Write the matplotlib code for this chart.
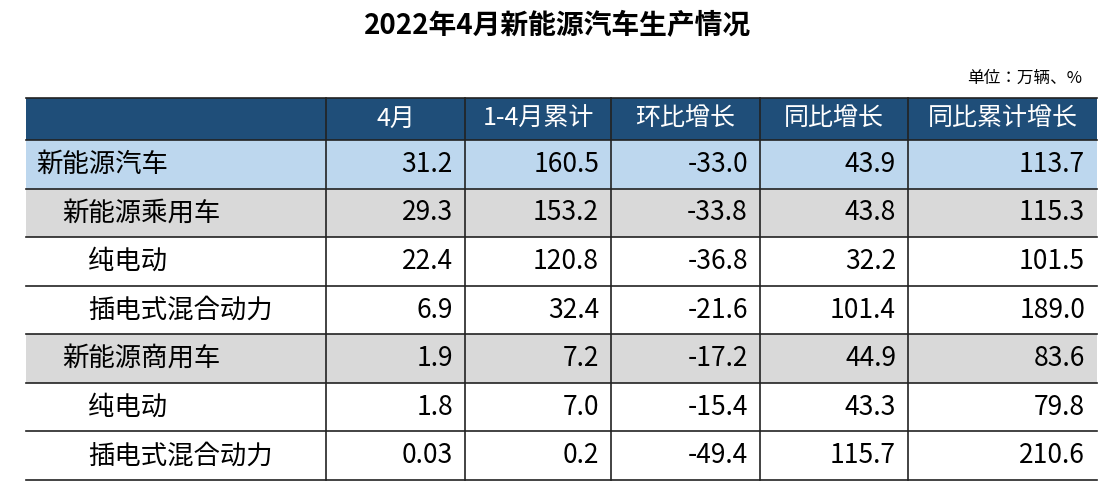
import matplotlib.pyplot as plt
from matplotlib import font_manager
from matplotlib.patches import Rectangle

cjk = sorted({f.name for f in font_manager.fontManager.ttflist if "CJK" in f.name})
plt.rcParams["font.family"] = (cjk[:1] or ["Noto Sans CJK SC"]) + ["DejaVu Sans"]

title = "2022年4月新能源汽车生产情况"
unit = "单位：万辆、%"
headers = ["", "4月", "1-4月累计", "环比增长", "同比增长", "同比累计增长"]
row_labels = ["新能源汽车", "新能源乘用车", "纯电动", "插电式混合动力",
              "新能源商用车", "纯电动", "插电式混合动力"]
row_levels = [0, 1, 2, 2, 1, 2, 2]
values = [
    ["31.2", "160.5", "-33.0", "43.9", "113.7"],
    ["29.3", "153.2", "-33.8", "43.8", "115.3"],
    ["22.4", "120.8", "-36.8", "32.2", "101.5"],
    ["6.9", "32.4", "-21.6", "101.4", "189.0"],
    ["1.9", "7.2", "-17.2", "44.9", "83.6"],
    ["1.8", "7.0", "-15.4", "43.3", "79.8"],
    ["0.03", "0.2", "-49.4", "115.7", "210.6"],
]
row_fill = ["#BDD7EE", "#D9D9D9", "white", "white", "#D9D9D9", "white", "white"]

W, H = 1116, 500
fig = plt.figure(figsize=(W / 100, H / 100), dpi=100)
ax = fig.add_axes([0, 0, 1, 1])
ax.set_xlim(0, W)
ax.set_ylim(H, 0)
ax.axis("off")

col_x = [26, 326, 465, 611, 760, 908, 1097]
top, head_h = 98, 42
row_h = (480 - (top + head_h)) / len(row_labels)

ax.text(W / 2, 26, title, ha="center", va="center", fontsize=20, fontweight="bold")
ax.text(1082, 78, unit, ha="right", va="center", fontsize=12)

# header
ax.add_patch(Rectangle((col_x[0], top), col_x[-1] - col_x[0], head_h,
                       facecolor="#1F4E79", edgecolor="none"))
for i, h in enumerate(headers):
    if h:
        ax.text((col_x[i] + col_x[i + 1]) / 2, top + head_h / 2, h, ha="center",
                va="center", fontsize=18, color="white")

for r, label in enumerate(row_labels):
    y0 = top + head_h + r * row_h
    ax.add_patch(Rectangle((col_x[0], y0), col_x[-1] - col_x[0], row_h,
                           facecolor=row_fill[r], edgecolor="none"))
    ax.text(col_x[0] + 10 + 26 * row_levels[r], y0 + row_h / 2, label,
            ha="left", va="center", fontsize=19)
    for c, v in enumerate(values[r]):
        ax.text(col_x[c + 2] - 12, y0 + row_h / 2, v, ha="right", va="center",
                fontsize=19)

# grid lines
bottom = top + head_h + len(row_labels) * row_h
for k in range(len(row_labels) + 2):
    y = top if k == 0 else top + head_h + (k - 1) * row_h
    ax.plot([col_x[0], col_x[-1]], [y, y], color="#222222", lw=1.2)
for x in col_x[1:-1]:
    ax.plot([x, x], [top, bottom], color="#222222", lw=1.2)

fig.savefig("out.png", dpi=100)
